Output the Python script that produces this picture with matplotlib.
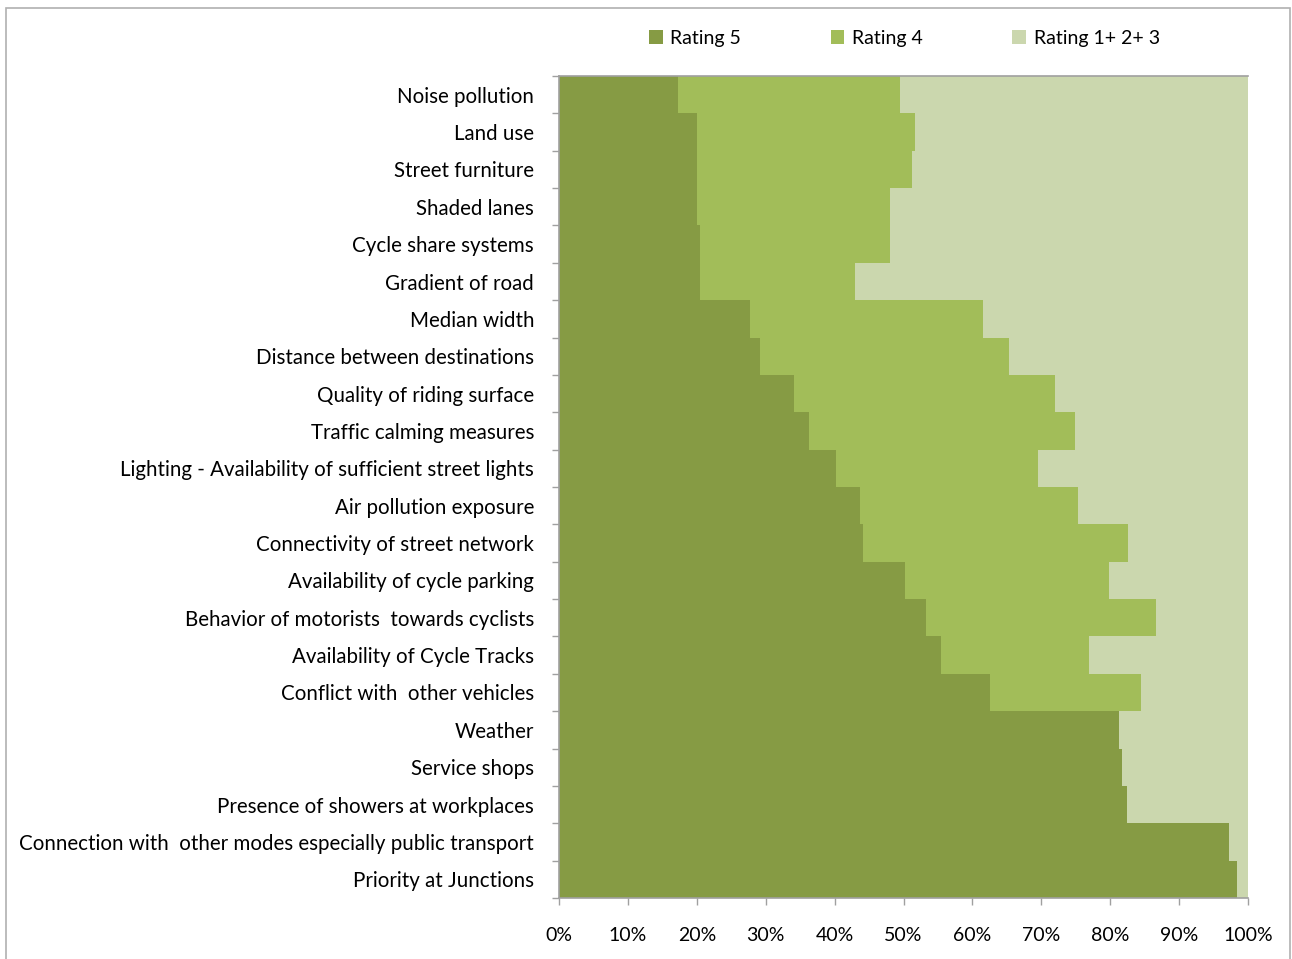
import matplotlib
matplotlib.use("Agg")
import matplotlib.pyplot as plt
import numpy as np
from matplotlib.patches import Rectangle

plt.rcParams['font.family'] = ['Lato', 'DejaVu Sans']

categories = [
    "Noise pollution",
    "Land use",
    "Street furniture",
    "Shaded lanes",
    "Cycle share systems",
    "Gradient of road",
    "Median width",
    "Distance between destinations",
    "Quality of riding surface",
    "Traffic calming measures",
    "Lighting - Availability of sufficient street lights",
    "Air pollution exposure",
    "Connectivity of street network",
    "Availability of cycle parking",
    "Behavior of motorists  towards cyclists",
    "Availability of Cycle Tracks",
    "Conflict with  other vehicles",
    "Weather",
    "Service shops",
    "Presence of showers at workplaces",
    "Connection with  other modes especially public transport",
    "Priority at Junctions",
]

# percentages
rating5 = [17.3, 20.0, 20.0, 20.0, 20.5, 20.5, 27.7, 29.2, 34.1, 36.3, 40.2,
           43.7, 44.1, 50.2, 53.3, 55.4, 62.6, 81.3, 81.7, 82.4, 97.2, 98.4]
rating4 = [32.2, 31.7, 31.2, 28.0, 27.5, 22.5, 33.8, 36.1, 37.9, 38.6, 29.3,
           31.6, 38.5, 29.6, 33.3, 21.5, 21.9, 0.0, 0.0, 0.0, 0.0, 0.0]
rating123 = [100 - a - b for a, b in zip(rating5, rating4)]

c5 = "#869B44"
c4 = "#A2BD59"
c123 = "#CBD7AE"
grey = "#A0A0A0"

fig = plt.figure(figsize=(12.92, 9.59), dpi=100)
ax = fig.add_axes([559/1292, 1-898/959, (1248-559)/1292, (898-76)/959])

y = np.arange(len(categories))
ax.barh(y, rating5, height=1.0, color=c5, label="Rating 5")
ax.barh(y, rating4, left=rating5, height=1.0, color=c4, label="Rating 4")
left3 = [a + b for a, b in zip(rating5, rating4)]
ax.barh(y, rating123, left=left3, height=1.0, color=c123, label="Rating 1+ 2+ 3")

ax.set_xlim(0, 100)
ax.set_ylim(len(categories) - 0.5, -0.5)
ax.set_xticks(np.arange(0, 101, 10))
ax.set_xticklabels([f"{v}%" for v in range(0, 101, 10)], fontsize=14)
ax.set_yticks(y)
ax.set_yticklabels(categories, fontsize=14.8)
ax.set_yticks(np.arange(-0.5, len(categories), 1), minor=True)
ax.tick_params(axis='y', which='major', length=0, pad=18)
ax.tick_params(axis='y', which='minor', length=5, color=grey, width=1)
ax.tick_params(axis='x', length=5, color=grey, width=1, pad=16)

for s in ['left', 'bottom', 'top']:
    ax.spines[s].set_color(grey)
    ax.spines[s].set_linewidth(1.2)
ax.spines['right'].set_visible(False)

fig.legend(loc='center', bbox_to_anchor=(0.70, 0.96), ncol=3, frameon=False,
           fontsize=14, handlelength=0.7, handleheight=0.7, handletextpad=0.4,
           columnspacing=4.6)

fig.patches.append(Rectangle((6/1292, -0.01), 1284/1292, 1.01 - 8/959,
                             transform=fig.transFigure, fill=False,
                             edgecolor="#B0B0B0", linewidth=1.2))

fig.savefig("out.png", dpi=100)
